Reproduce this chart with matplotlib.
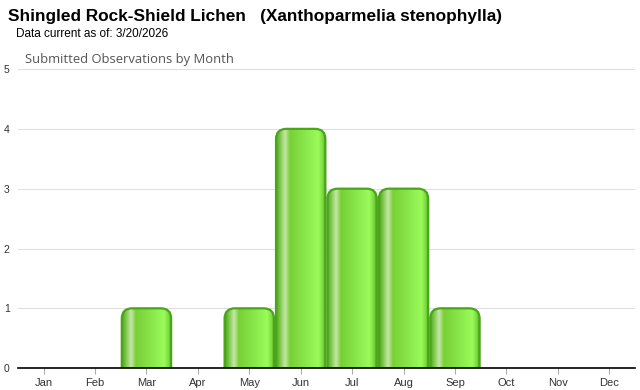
import matplotlib
matplotlib.use("Agg")
import matplotlib.pyplot as plt
import numpy as np
from matplotlib.patches import FancyBboxPatch
from matplotlib.colors import LinearSegmentedColormap

months = ["Jan", "Feb", "Mar", "Apr", "May", "Jun", "Jul", "Aug", "Sep", "Oct", "Nov", "Dec"]
counts = [0, 0, 1, 0, 1, 4, 3, 3, 1, 0, 0, 0]
yticks = [0, 1, 2, 3, 4, 5]

plt.rcParams['font.family'] = ['Liberation Sans', 'DejaVu Sans']

fig = plt.figure(figsize=(6.4, 3.9), dpi=100)
ax = fig.add_axes([0.028, 0.056, 0.964, 0.767])

ax.set_xlim(-0.5, 11.5)
ax.set_ylim(0, 5)

cmap = LinearSegmentedColormap.from_list(
    "bar", [(0.0, "#4aa51a"), (0.08, "#7cc84a"), (0.18, "#c6e6a8"), (0.28, "#78d035"),
            (0.6, "#8ae84c"), (0.85, "#9bfb5a"), (0.94, "#7ad93e"), (1.0, "#4aa51a")])
grad = np.linspace(0, 1, 256).reshape(1, -1)

width = 0.96
for i, v in enumerate(counts):
    if v <= 0:
        continue
    x0 = i - width / 2
    patch = FancyBboxPatch((x0, -0.3), width, v + 0.3,
                           boxstyle="round,pad=0,rounding_size=0.2",
                           mutation_aspect=0.86,
                           facecolor="none", edgecolor="#4aa51a", linewidth=1.6,
                           zorder=3, clip_on=True)
    ax.add_patch(patch)
    im = ax.imshow(grad, cmap=cmap, extent=(x0, x0 + width, 0, v), aspect="auto",
                   zorder=2, interpolation="bilinear")
    im.set_clip_path(patch)

ax.set_xlim(-0.5, 11.5)
ax.set_ylim(0, 5)

ax.set_yticks(yticks)
ax.set_yticklabels([str(t) for t in yticks], fontsize=7.5, color="#333333")
ax.set_xticks(range(12))
ax.set_xticklabels(months, fontsize=8, color="#333333")
ax.tick_params(axis="y", length=0, pad=6)
ax.tick_params(axis="x", length=4, color="#aaaaaa", pad=3)
ax.grid(axis="y", color="#e0e0e0", linewidth=0.8, zorder=0)
ax.set_axisbelow(True)
for s in ["top", "right", "left"]:
    ax.spines[s].set_visible(False)
ax.spines["bottom"].set_color("black")
ax.spines["bottom"].set_linewidth(1.2)
ax.spines["bottom"].set_zorder(5)

fig.text(8 / 640, 1 - 16.5 / 390, "Shingled Rock-Shield Lichen   (Xanthoparmelia stenophylla)",
         fontsize=12.4, fontweight="bold", va="center", ha="left", color="black")
fig.text(16 / 640, 1 - 34 / 390, "Data current as of: 3/20/2026",
         fontsize=8.5, va="center", ha="left", color="black")
fig.text(25 / 640, 1 - 59 / 390, "Submitted Observations by Month",
         fontsize=9.4, va="center", ha="left", color="#555555", family=["Open Sans", "DejaVu Sans"])

fig.savefig("out.png", dpi=100)
